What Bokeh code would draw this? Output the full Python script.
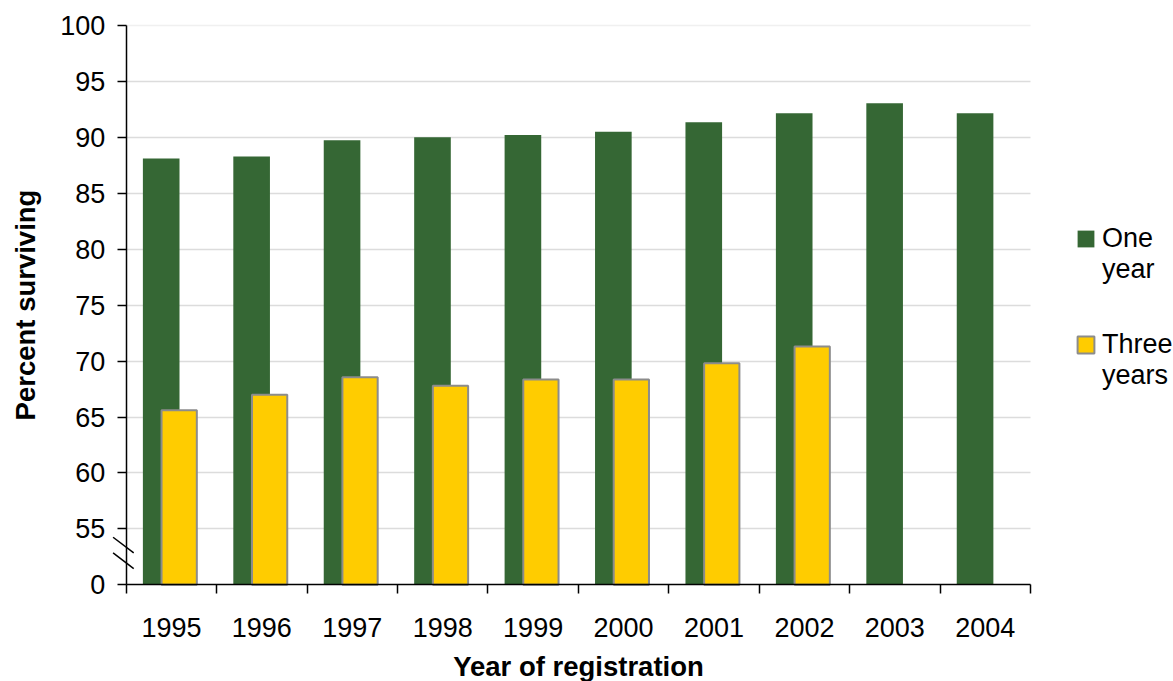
from bokeh.plotting import figure
from bokeh.models import (Range1d, FixedTicker, Legend, LegendItem, Grid, ColumnDataSource,
                          LinearAxis)
from bokeh.transform import dodge
from bokeh.embed import file_html
from bokeh.resources import INLINE

# Survival rates by year of registration
years = ["1995", "1996", "1997", "1998", "1999", "2000", "2001", "2002", "2003", "2004"]
one_year = [88.1, 88.3, 89.75, 90.0, 90.2, 90.5, 91.35, 92.15, 93.05, 92.15]
three_years = [65.6, 67.0, 68.55, 67.8, 68.35, 68.35, 69.8, 71.3, float("nan"), float("nan")]

y_ticks = [50, 55, 60, 65, 70, 75, 80, 85, 90, 95, 100]
y_tick_labels = {50: "0"}  # the axis is broken between 0 and 55

GREEN = "#356734"
YELLOW = "#FFCC00"
FONT = "Liberation Sans"

W, H = 1173, 681
# plot-area geometry in pixels; the axes sit inside the frame at fixed locations
AX_LEFT, AX_RIGHT, AX_TOP, AX_BOTTOM = 125.7, 1030.0, 25.0, 584.3
n = len(years)
px_x = (AX_RIGHT - AX_LEFT) / n
y_lo, y_hi = y_ticks[0], y_ticks[-1]
px_y = (AX_BOTTOM - AX_TOP) / (y_hi - y_lo)

x_range = Range1d(-AX_LEFT / px_x, (W - AX_LEFT) / px_x)
y_range = Range1d(y_lo - (H - AX_BOTTOM) / px_y, y_hi + AX_TOP / px_y)

centers = [i + 0.5 for i in range(n)]
src = ColumnDataSource(dict(x=centers, one=one_year, three=three_years))

p = figure(width=W, height=H, output_backend="svg", toolbar_location=None,
           x_range=x_range, y_range=y_range,
           min_border=0, min_border_left=0, min_border_right=0,
           min_border_top=0, min_border_bottom=0, x_axis_location=None,
           y_axis_location=None)
p.outline_line_color = None
p.background_fill_color = "white"
p.grid.visible = False

# gridlines spanning the plot area only
grid = Grid(dimension=1, ticker=FixedTicker(ticks=y_ticks[1:-1]), cross_bounds=(0, n),
            grid_line_color="#dcdcdc", grid_line_width=1.5)
top_line = Grid(dimension=1, ticker=FixedTicker(ticks=[y_hi]), cross_bounds=(0, n),
                grid_line_color="#f0f0f0", grid_line_width=1.5)
p.add_layout(grid)
p.add_layout(top_line)

g = p.vbar(x=dodge("x", -0.113, range=p.x_range), width=0.405, bottom=y_lo, top="one",
           source=src, fill_color=GREEN, line_color=None)
yb = p.vbar(x=dodge("x", 0.086, range=p.x_range), width=0.39, bottom=y_lo, top="three",
            source=src, fill_color=YELLOW, line_color="#8c8c8c", line_width=2)

# axis break marks on the value axis
p.segment(x0=[-0.145, -0.145], y0=[54.25, 52.85], x1=[0.083, 0.083], y1=[52.85, 51.45],
          line_color="black", line_width=1.5)

xa = LinearAxis(fixed_location=y_lo, bounds=(0, n))
xa.ticker = FixedTicker(ticks=centers, minor_ticks=list(range(n + 1)))
xa.major_label_overrides = {c: yr for c, yr in zip(centers, years)}
xa.major_tick_out = 0
xa.major_tick_in = 0
xa.minor_tick_out = 9
xa.minor_tick_in = 0
xa.minor_tick_line_color = "black"
xa.minor_tick_line_width = 1.5
xa.axis_line_color = "black"
xa.axis_line_width = 1.5
xa.major_label_standoff = 24
xa.major_label_text_font = FONT
xa.major_label_text_font_size = "27px"
xa.major_label_text_color = "black"
xa.axis_label = "Year of registration"
xa.axis_label_text_font = FONT
xa.axis_label_text_font_size = "27.5px"
xa.axis_label_text_font_style = "bold"
xa.axis_label_text_color = "black"
xa.axis_label_standoff = 11
p.add_layout(xa, "below")

ya = LinearAxis(fixed_location=0, bounds=(y_lo, y_hi))
ya.ticker = FixedTicker(ticks=y_ticks, minor_ticks=[])
ya.major_label_overrides = y_tick_labels
ya.major_tick_out = 9
ya.major_tick_in = 0
ya.major_tick_line_color = "black"
ya.major_tick_line_width = 1.5
ya.axis_line_color = "black"
ya.axis_line_width = 1.5
ya.major_label_standoff = 12
ya.major_label_text_font = FONT
ya.major_label_text_font_size = "27px"
ya.major_label_text_color = "black"
ya.axis_label = "Percent surviving"
ya.axis_label_text_font = FONT
ya.axis_label_text_font_size = "27.5px"
ya.axis_label_text_font_style = "bold"
ya.axis_label_text_color = "black"
ya.axis_label_standoff = 16
p.add_layout(ya, "left")

# legend labels wrap onto two lines, with the swatch beside the first line
legend = Legend(items=[LegendItem(label="\nOne\nyear", renderers=[g]),
                       LegendItem(label="\nThree\nyears", renderers=[yb])],
                location=(1075, 290), orientation="vertical",
                label_text_font=FONT, label_text_font_size="27px",
                label_text_color="black", glyph_width=21, glyph_height=21,
                label_standoff=6, spacing=13, padding=0, margin=0,
                border_line_color=None, background_fill_alpha=0)
p.add_layout(legend)

open("out.html", "w").write(file_html(p, INLINE))
